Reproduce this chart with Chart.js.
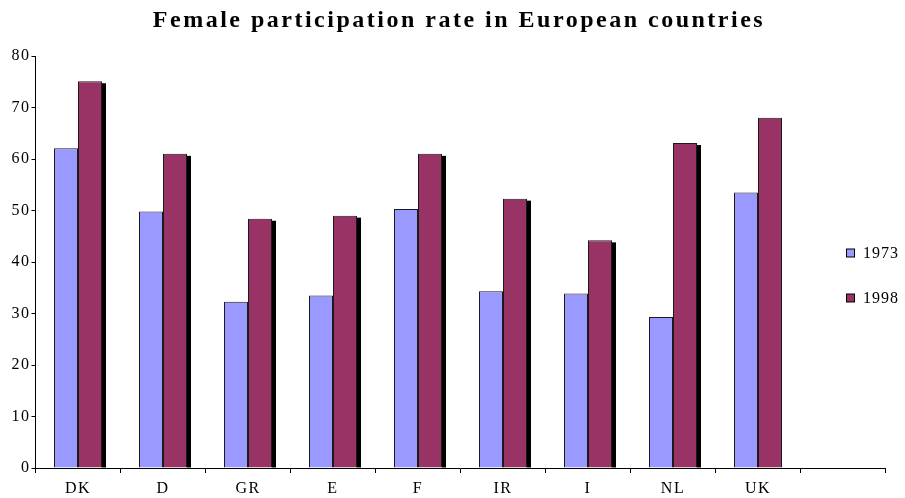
<!DOCTYPE html>
<html>
<head>
<meta charset="utf-8">
<script src="https://cdn.jsdelivr.net/npm/chart.js@4"></script>
<style>
  html, body { margin: 0; padding: 0; background: #fff; }
  #wrap { width: 905px; height: 498px; position: relative; }
</style>
</head>
<body>
<div id="wrap"><canvas id="chart"></canvas></div>
<script>
// Chart data
const countries = ['DK', 'D', 'GR', 'E', 'F', 'IR', 'I', 'NL', 'UK', ''];
const rate1973 = [62.1, 49.8, 32.3, 33.5, 50.3, 34.3, 33.9, 29.3, 53.5, null];
const rate1998 = [75.1, 61.0, 48.4, 49.0, 61.0, 52.3, 44.2, 63.1, 68.0, null];
const yTicks = [0, 10, 20, 30, 40, 50, 60, 70, 80];
const seriesNames = ['1973', '1998'];

const serif = "'Liberation Serif', 'Times New Roman', serif";

// letter spacing for all canvas text (old Excel look)
const spacingPlugin = {
  id: 'spacing',
  beforeLayout(chart) { chart.ctx.letterSpacing = '1.5px'; },
  beforeDraw(chart) { chart.ctx.letterSpacing = '1.5px'; }
};

// black drop shadow on the right of the 1998 bars (UK has none)
const shadowPlugin = {
  id: 'barShadow',
  beforeDatasetsDraw(chart) {
    const ctx = chart.ctx;
    const meta = chart.getDatasetMeta(1);
    ctx.save();
    ctx.fillStyle = '#000';
    meta.data.forEach((bar, i) => {
      if (i >= 8 || bar.skip) return;
      const p = bar.getProps(['x', 'y', 'width', 'base'], true);
      const right = p.x + p.width / 2;
      ctx.fillRect(right, p.y + 2, 4, p.base - p.y - 2);
    });
    ctx.restore();
  }
};

// title and legend drawn by hand to keep their spacing
const decorPlugin = {
  id: 'decor',
  afterDraw(chart) {
    const ctx = chart.ctx;
    ctx.save();
    ctx.letterSpacing = '2.5px';
    ctx.fillStyle = '#000';
    ctx.font = 'bold 24px ' + serif;
    ctx.textAlign = 'center';
    ctx.textBaseline = 'middle';
    ctx.fillText('Female participation rate in European countries', 459, 21);

    const colors = chart.data.datasets.map(d => d.backgroundColor);
    const rows = [253, 298];
    ctx.letterSpacing = '1px';
    ctx.font = '16px ' + serif;
    ctx.textAlign = 'left';
    seriesNames.forEach((name, i) => {
      ctx.fillStyle = colors[i];
      ctx.fillRect(846.5, rows[i] - 4, 8, 8);
      ctx.strokeStyle = '#000';
      ctx.lineWidth = 1;
      ctx.strokeRect(846.5, rows[i] - 4, 8, 8);
      ctx.fillStyle = '#000';
      ctx.fillText(name, 863, rows[i] + 1);
    });
    ctx.restore();
  }
};

new Chart(document.getElementById('chart'), {
  type: 'bar',
  data: {
    labels: countries,
    datasets: [
      {
        label: seriesNames[0],
        data: rate1973,
        backgroundColor: '#9999ff',
        borderColor: '#1a1a1a',
        borderWidth: 1
      },
      {
        label: seriesNames[1],
        data: rate1998,
        backgroundColor: '#993366',
        borderColor: '#1a1a1a',
        borderWidth: 1
      }
    ]
  },
  options: {
    responsive: true,
    maintainAspectRatio: false,
    animation: false,
    categoryPercentage: 48 / 85,
    barPercentage: 1.0,
    layout: {
      padding: { top: 56, right: 19.5, left: 0, bottom: 0 }
    },
    plugins: {
      legend: { display: false },
      title: { display: false },
      tooltip: { enabled: false }
    },
    scales: {
      x: {
        grid: {
          offset: true,
          drawOnChartArea: false,
          drawTicks: true,
          tickLength: 5,
          color: '#000'
        },
        border: { color: '#000', width: 1 },
        ticks: {
          color: '#000',
          padding: 6,
          font: { family: serif, size: 16 }
        },
        afterFit(scale) { scale.height = 30; }
      },
      y: {
        min: 0,
        max: 80,
        afterBuildTicks(scale) {
          scale.ticks = yTicks.map(v => ({ value: v }));
        },
        grid: {
          drawOnChartArea: false,
          drawTicks: true,
          tickLength: 4,
          color: '#000'
        },
        border: { color: '#000', width: 1 },
        ticks: {
          color: '#000',
          padding: 1,
          font: { family: serif, size: 16 }
        },
        afterFit(scale) { scale.width = 35.5; }
      }
    }
  },
  plugins: [spacingPlugin, shadowPlugin, decorPlugin]
});
</script>
</body>
</html>
